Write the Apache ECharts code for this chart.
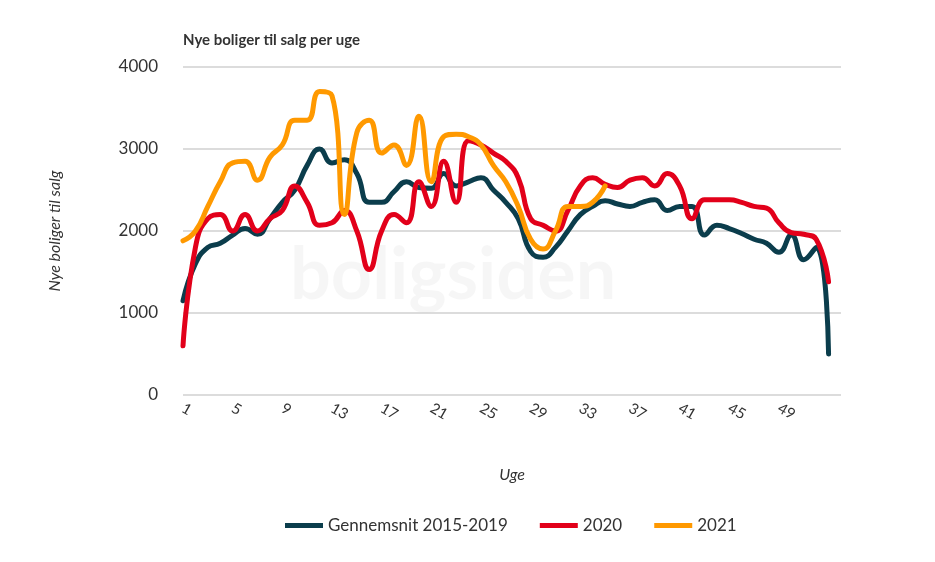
<!DOCTYPE html><html><head><meta charset="utf-8"><script src="https://cdn.jsdelivr.net/npm/echarts@6/dist/echarts.min.js"></script>
<style>html,body{margin:0;padding:0;background:#fff}#c{width:935px;height:562px}</style></head><body><div id="c"></div><script>
const weeks = Array.from({length:53},(_,i)=>String(i+1));
const avg = [1150,1600,1800,1850,1950,2030,1960,2150,2350,2500,2800,3000,2830,2870,2700,2350,2350,2480,2600,2530,2520,2700,2550,2600,2650,2500,2350,2150,1750,1680,1800,2000,2200,2300,2370,2330,2300,2350,2380,2250,2300,2300,1950,2070,2030,1970,1900,1850,1740,1950,1650,1800,500];
const y2020 = [600,1800,2150,2200,2000,2200,2000,2150,2250,2550,2350,2070,2100,2250,2000,1530,2000,2200,2100,2600,2300,2850,2350,3100,3050,2950,2850,2650,2150,2070,2000,2250,2550,2650,2570,2530,2620,2650,2550,2700,2550,2150,2380,2380,2380,2350,2300,2280,2100,1980,1960,1900,1380];
const y2021 = [1880,2000,2300,2600,2830,2850,2620,2900,3050,3350,3350,3700,3650,2200,3200,3350,2950,3050,2800,3400,2600,3150,3180,3150,3050,2800,2600,2300,1900,1780,2000,2300,2300,2350,2550];
const font = 'Lato';
const mk = (name, data, color) => ({name, type:'line', data, smooth:0.5, symbol:'none', lineStyle:{width:5, color, cap:'round'}, itemStyle:{color}});
const ch = echarts.init(document.getElementById('c'));
ch.setOption({
  animation:false,
  title:{text:'Nye boliger til salg per uge', left:178, top:28, textStyle:{fontFamily:font, fontSize:15, fontWeight:'bold', color:'#333'}},
  graphic:[{type:'text', left:290, top:240, style:{text:'boligsiden', fontSize:72, fontWeight:'bold', fontFamily:font, fill:'rgba(0,0,0,0.035)'}}],
  grid:{left:183, right:94, top:67, bottom:167},
  legend:{top:512, left:280, itemWidth:38, itemHeight:5, itemGap:32, icon:'rect', textStyle:{fontFamily:font, fontSize:17, color:'#333'}},
  xAxis:{type:'category', data:weeks.concat(['']), boundaryGap:false, name:'Uge', nameLocation:'middle', nameGap:72,
    nameTextStyle:{fontFamily:font, fontStyle:'italic', fontSize:16, color:'#333'},
    axisLine:{show:false}, axisTick:{show:false},
    axisLabel:{interval:(i)=>i%4===0 && i<52, rotate:-30, fontFamily:font, fontSize:15, color:'#333', margin:12}},
  yAxis:{type:'value', min:0, max:4000, interval:1000, name:'Nye boliger til salg', nameLocation:'middle', nameGap:120,
    nameTextStyle:{fontFamily:font, fontStyle:'italic', fontSize:16, color:'#333'},
    axisLabel:{fontFamily:font, fontSize:17, color:'#333', margin:25, formatter:(v)=>String(v)},
    splitLine:{lineStyle:{color:'#d0d0d0', width:1.5}}},
  series:[mk('Gennemsnit 2015-2019', avg, '#0b3d4c'), mk('2020', y2020, '#e2001a'), mk('2021', y2021, '#ff9900')]
});
</script></body></html>
